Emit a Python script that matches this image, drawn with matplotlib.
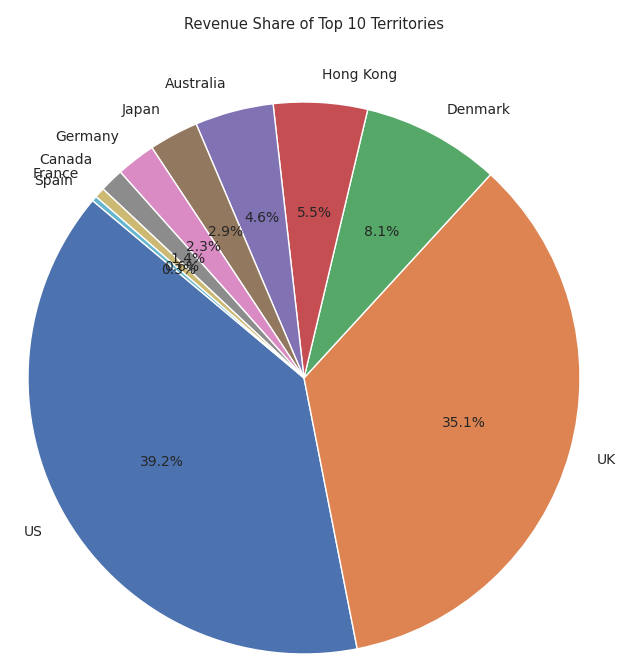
import matplotlib
matplotlib.use("Agg")
import matplotlib.pyplot as plt
import seaborn as sns

territories = ["US", "UK", "Denmark", "Hong Kong", "Australia", "Japan", "Germany", "Canada", "France", "Spain"]
shares = [39.2, 35.1, 8.1, 5.5, 4.6, 2.9, 2.3, 1.4, 0.6, 0.3]

sns.set_theme(style="whitegrid")
colors = sns.color_palette("deep", 10)
W, H = 627, 660
r, cx, cy = 276, 304, 378
half = 1.1 * r
fig = plt.figure(figsize=(W / 100, H / 100), dpi=100)
ax = fig.add_axes([(cx - half) / W, (H - cy - half) / H, 2 * half / W, 2 * half / H])
ax.pie(shares, labels=territories, autopct="%1.1f%%", startangle=140, colors=colors,
       wedgeprops=dict(edgecolor="white", linewidth=1),
       textprops=dict(fontsize=10, color="#262626", clip_on=False))
ax.set_xlim(-1.1, 1.1)
ax.set_ylim(-1.1, 1.1)
ax.set_aspect("auto")
ax.axis("off")
fig.suptitle("Revenue Share of Top 10 Territories", y=0.975, fontsize=10.5, color="#262626")
fig.savefig("out.png", dpi=100)
